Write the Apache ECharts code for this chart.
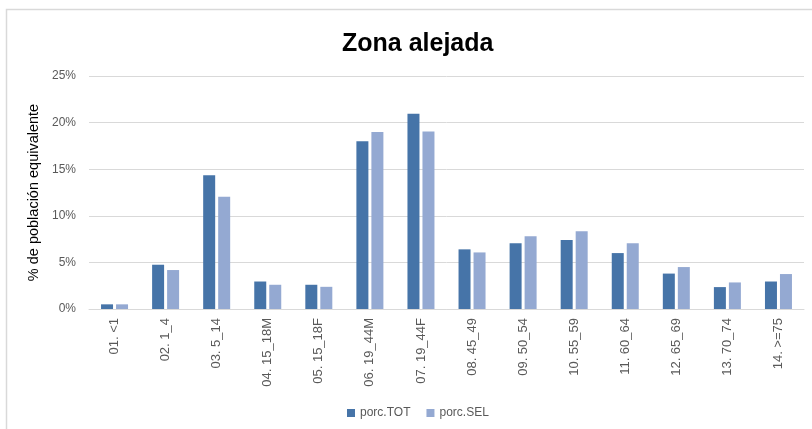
<!DOCTYPE html>
<html>
<head>
<meta charset="utf-8">
<script src="https://cdn.jsdelivr.net/npm/echarts@6/dist/echarts.min.js"></script>
<style>
html, body { margin: 0; padding: 0; background: #fff; }
#chart { width: 812px; height: 429px; }
</style>
</head>
<body>
<div id="chart"></div>
<script>
// categorías y porcentajes
const categories = ['01. <1', '02. 1_4', '03. 5_14', '04. 15_18M', '05. 15_18F', '06. 19_44M', '07. 19_44F',
  '08. 45_49', '09. 50_54', '10. 55_59', '11. 60_64', '12. 65_69', '13. 70_74', '14. >=75']
const porcTot = [0.5, 4.75, 14.35, 2.95, 2.6, 18.0, 20.95, 6.4, 7.05, 7.4, 6.0, 3.8, 2.35, 2.95]
const porcSel = [0.5, 4.18, 12.05, 2.6, 2.38, 19.0, 19.05, 6.07, 7.8, 8.35, 7.05, 4.5, 2.85, 3.75]
const yTicks = ['0%', '5%', '10%', '15%', '20%', '25%']

const chart = echarts.init(document.getElementById('chart'))

const option = {
  animation: false,
  textStyle: { fontFamily: 'Liberation Sans, Arial, sans-serif' },
  title: {
    text: 'Zona alejada',
    left: 337,
    top: 27,
    textStyle: { fontSize: 25, fontWeight: 'bold', color: '#000', fontFamily: 'Liberation Sans, Arial, sans-serif' }
  },
  graphic: [{
    type: 'polyline',
    shape: { points: [[6.5, 440], [6.5, 9.5], [820, 9.5]] },
    style: { stroke: '#d9d9d9', fill: null, lineWidth: 1.5 },
    silent: true
  }],
  legend: {
    data: ['porc.TOT', 'porc.SEL'],
    bottom: 5,
    left: 342,
    itemWidth: 8,
    itemHeight: 8,
    itemGap: 16,
    icon: 'rect',
    textStyle: { color: '#595959', fontSize: 12 }
  },
  grid: {
    top: 76,
    left: 89,
    right: 8,
    bottom: 120
  },
  xAxis: [{
    type: 'category',
    data: categories,
    axisTick: { show: false },
    axisLine: { lineStyle: { color: '#d9d9d9', width: 1 } },
    axisLabel: {
      rotate: 90,
      color: '#595959',
      fontSize: 13,
      margin: 9,
      interval: 0
    }
  }],
  yAxis: [{
    type: 'value',
    min: 0,
    max: 25,
    interval: 5,
    name: '% de población equivalente',
    nameLocation: 'middle',
    nameGap: 37,
    nameTextStyle: { color: '#000', fontSize: 14.5 },
    axisLine: { show: false },
    axisTick: { show: false },
    splitLine: { lineStyle: { color: '#d9d9d9', width: 1 } },
    axisLabel: {
      color: '#595959',
      fontSize: 12,
      margin: 13,
      formatter: v => yTicks[Math.round(v / 5)]
    }
  }],
  series: [{
    name: 'porc.TOT',
    type: 'bar',
    barWidth: 12,
    barGap: '25%',
    itemStyle: { color: '#4674a8' },
    data: porcTot
  }, {
    name: 'porc.SEL',
    type: 'bar',
    barWidth: 12,
    itemStyle: { color: '#94a9d2' },
    data: porcSel
  }]
}

chart.setOption(option)
</script>
</body>
</html>
